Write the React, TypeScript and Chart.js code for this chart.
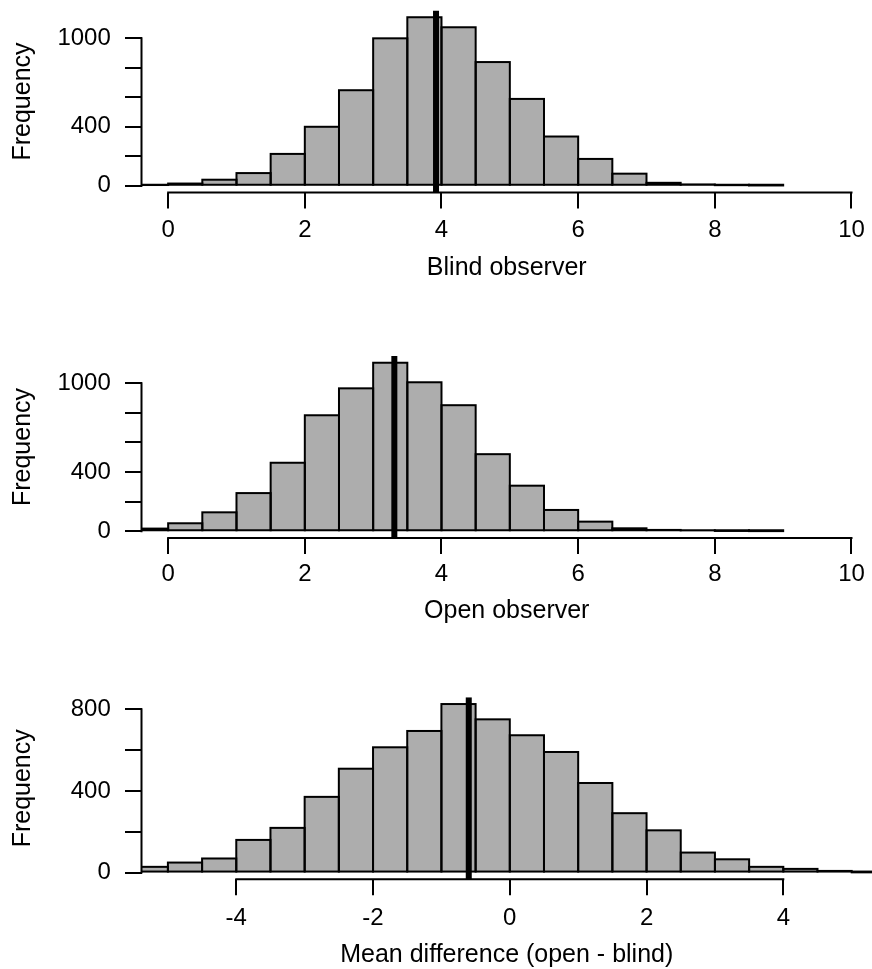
import React, { useEffect, useRef } from "react";
import { Chart, registerables } from "chart.js";

Chart.register(...registerables);

// ---------- data ----------
const BIN_WIDTH = 0.5;

const OBS_BIN_LOWER = [-0.5, 0, 0.5, 1, 1.5, 2, 2.5, 3, 3.5, 4, 4.5, 5, 5.5, 6, 6.5, 7, 7.5, 8, 8.5];
const BLIND_COUNTS = [5, 15, 41, 86, 216, 400, 648, 1000, 1143, 1075, 839, 589, 334, 182, 82, 20, 9, 4, 2];
const BLIND_MEAN = 3.92;

const OPEN_COUNTS = [18, 54, 128, 258, 463, 784, 966, 1139, 1007, 852, 521, 308, 144, 65, 20, 9, 6, 2, 1];
const OPEN_MEAN = 3.31;

const DIFF_BIN_LOWER = [-5.5, -5, -4.5, -4, -3.5, -3, -2.5, -2, -1.5, -1, -0.5, 0, 0.5, 1, 1.5, 2, 2.5, 3, 3.5, 4, 4.5, 5];
const DIFF_COUNTS = [28, 49, 69, 160, 219, 371, 509, 614, 694, 826, 751, 673, 591, 439, 291, 207, 98, 65, 28, 18, 8, 1];
const DIFF_MEAN = -0.6;

const OBS_X_RANGE = [-0.39, 10.3];
const DIFF_X_RANGE = [-5.386, 5.297];
const OBS_X_TICKS = [0, 2, 4, 6, 8, 10];
const DIFF_X_TICKS = [-4, -2, 0, 2, 4];
const OBS_Y_TICKS = [0, 200, 400, 600, 800, 1000];
const DIFF_Y_TICKS = [0, 200, 400, 600, 800];
const OBS_Y_LABELS = [0, 400, 1000];
const DIFF_Y_LABELS = [0, 400, 800];

const Y_TITLE = "Frequency";
const BLIND_TITLE = "Blind observer";
const OPEN_TITLE = "Open observer";
const DIFF_TITLE = "Mean difference (open - blind)";

// ---------- styling / layout ----------
const FONT = "'Liberation Sans', Arial, Helvetica, sans-serif";
const TICK_FONT_SIZE = 24;
const TITLE_FONT_SIZE = 25;
const BAR_FILL = "#ADADAD";
const INK = "#000000";
const CANVAS_W = 872;
const Y_AXIS_W = 141.5;

type Layout = {
  top: number;
  height: number;
  padTop: number;
  xAxisH: number;
  tickPad: number;
  titlePad: number;
};

const LAYOUT_1: Layout = { top: 0, height: 300, padTop: 10.5, xAxisH: 107.5, tickPad: 9.5, titlePad: 19.5 };
const LAYOUT_2: Layout = { top: 320, height: 320, padTop: 36, xAxisH: 102, tickPad: 8, titlePad: 16.8 };
const LAYOUT_3: Layout = { top: 660, height: 309, padTop: 37.3, xAxisH: 89.7, tickPad: 11, titlePad: 1.2 };

const rStylePlugin = {
  id: "rStyle",
  afterDatasetDraw(chart: any, args: any) {
    if (args.meta.type !== "bar") return;
    const { ctx, chartArea } = chart;
    ctx.save();
    ctx.beginPath();
    ctx.rect(chartArea.left, chartArea.top, chartArea.right - chartArea.left, chartArea.bottom - chartArea.top);
    ctx.clip();
    ctx.lineWidth = 2;
    ctx.strokeStyle = INK;
    for (const el of args.meta.data) {
      const p = el.getProps(["x", "y", "base", "width"], true);
      const top = Math.min(p.y, p.base);
      ctx.strokeRect(p.x - p.width / 2, top, p.width, Math.abs(p.base - p.y));
    }
    ctx.restore();
  },
  afterDraw(chart: any) {
    const { ctx, chartArea } = chart;
    const xs = chart.scales.x;
    const ys = chart.scales.y;
    ctx.save();
    ctx.lineWidth = 2;
    ctx.strokeStyle = INK;
    ctx.lineCap = "square";
    ctx.beginPath();
    const yt = ys.ticks;
    ctx.moveTo(chartArea.left, ys.getPixelForValue(yt[0].value));
    ctx.lineTo(chartArea.left, ys.getPixelForValue(yt[yt.length - 1].value));
    const xt = xs.ticks;
    ctx.moveTo(xs.getPixelForValue(xt[0].value), chartArea.bottom);
    ctx.lineTo(xs.getPixelForValue(xt[xt.length - 1].value), chartArea.bottom);
    ctx.stroke();
    ctx.restore();
  },
};

type PanelProps = {
  lower: number[];
  counts: number[];
  mean: number;
  xRange: number[];
  xTicks: number[];
  yTicks: number[];
  yLabels: number[];
  title: string;
  layout: Layout;
};

function Histogram({ lower, counts, mean, xRange, xTicks, yTicks, yLabels, title, layout }: PanelProps) {
  const ref = useRef<HTMLCanvasElement | null>(null);
  useEffect(() => {
    if (!ref.current) return;
    const maxCount = Math.max(...counts);
    const yMin = -0.04 * maxCount;
    const yMax = 1.04 * maxCount;
    const chart = new Chart(ref.current, {
      type: "bar",
      data: {
        datasets: [
          {
            type: "line",
            data: [
              { x: mean, y: yMin },
              { x: mean, y: yMax },
            ],
            borderColor: INK,
            borderWidth: 6,
            pointRadius: 0,
            order: 0,
            clip: 0,
          } as any,
          {
            type: "bar",
            data: counts.map((c, i) => ({ x: lower[i] + BIN_WIDTH / 2, y: c })),
            backgroundColor: BAR_FILL,
            borderWidth: 0,
            barPercentage: 1,
            categoryPercentage: 1,
            inflateAmount: 0,
            order: 1,
            clip: 0,
          } as any,
        ],
      },
      options: {
        animation: false,
        responsive: true,
        maintainAspectRatio: false,
        events: [],
        layout: { padding: { top: layout.padTop, left: 0, right: 0, bottom: 0 } },
        plugins: { legend: { display: false }, tooltip: { enabled: false } },
        scales: {
          x: {
            type: "linear",
            position: "bottom",
            min: xRange[0],
            max: xRange[1],
            offset: false,
            afterBuildTicks: (s: any) => {
              s.ticks = xTicks.map((v) => ({ value: v }));
            },
            afterFit: (s: any) => {
              s.height = layout.xAxisH;
              s.paddingLeft = 0;
              s.paddingRight = 0;
            },
            border: { display: false },
            grid: {
              display: true,
              offset: false,
              drawOnChartArea: false,
              drawTicks: true,
              tickLength: 16,
              tickWidth: 2,
              tickColor: INK,
              lineWidth: 2,
              color: INK,
            },
            ticks: {
              autoSkip: false,
              maxRotation: 0,
              minRotation: 0,
              padding: layout.tickPad,
              color: INK,
              font: { family: FONT, size: TICK_FONT_SIZE, lineHeight: 1 },
              callback: (v: any) => String(v),
            },
            title: {
              display: true,
              text: title,
              color: INK,
              font: { family: FONT, size: TITLE_FONT_SIZE, lineHeight: 1 },
              padding: { top: 0, bottom: layout.titlePad },
            },
          },
          y: {
            type: "linear",
            position: "left",
            min: yMin,
            max: yMax,
            afterBuildTicks: (s: any) => {
              s.ticks = yTicks.map((v) => ({ value: v }));
            },
            afterFit: (s: any) => {
              s.width = Y_AXIS_W;
              s.paddingTop = 0;
              s.paddingBottom = 0;
            },
            border: { display: false },
            grid: {
              display: true,
              offset: false,
              drawOnChartArea: false,
              drawTicks: true,
              tickLength: 16.5,
              tickWidth: 2,
              tickColor: INK,
              lineWidth: 2,
              color: INK,
            },
            ticks: {
              autoSkip: false,
              padding: 14.2,
              color: INK,
              font: { family: FONT, size: TICK_FONT_SIZE, lineHeight: 1 },
              callback: (v: any) => (yLabels.includes(Number(v)) ? String(v) : ""),
            },
            title: {
              display: true,
              text: Y_TITLE,
              color: INK,
              font: { family: FONT, size: TITLE_FONT_SIZE, lineHeight: 1 },
              padding: { top: 10.5, bottom: 0 },
            },
          },
        },
      },
      plugins: [rStylePlugin],
    } as any);
    return () => chart.destroy();
  }, []);

  return (
    <div
      style={{
        position: "absolute",
        left: 0,
        top: layout.top,
        width: CANVAS_W,
        height: layout.height,
      }}
    >
      <canvas ref={ref} />
    </div>
  );
}

export default function App() {
  return (
    <div
      style={{
        position: "absolute",
        left: 0,
        top: 0,
        width: CANVAS_W,
        height: 969,
        background: "#ffffff",
        overflow: "hidden",
      }}
    >
      <Histogram
        lower={OBS_BIN_LOWER}
        counts={BLIND_COUNTS}
        mean={BLIND_MEAN}
        xRange={OBS_X_RANGE}
        xTicks={OBS_X_TICKS}
        yTicks={OBS_Y_TICKS}
        yLabels={OBS_Y_LABELS}
        title={BLIND_TITLE}
        layout={LAYOUT_1}
      />
      <Histogram
        lower={OBS_BIN_LOWER}
        counts={OPEN_COUNTS}
        mean={OPEN_MEAN}
        xRange={OBS_X_RANGE}
        xTicks={OBS_X_TICKS}
        yTicks={OBS_Y_TICKS}
        yLabels={OBS_Y_LABELS}
        title={OPEN_TITLE}
        layout={LAYOUT_2}
      />
      <Histogram
        lower={DIFF_BIN_LOWER}
        counts={DIFF_COUNTS}
        mean={DIFF_MEAN}
        xRange={DIFF_X_RANGE}
        xTicks={DIFF_X_TICKS}
        yTicks={DIFF_Y_TICKS}
        yLabels={DIFF_Y_LABELS}
        title={DIFF_TITLE}
        layout={LAYOUT_3}
      />
    </div>
  );
}
